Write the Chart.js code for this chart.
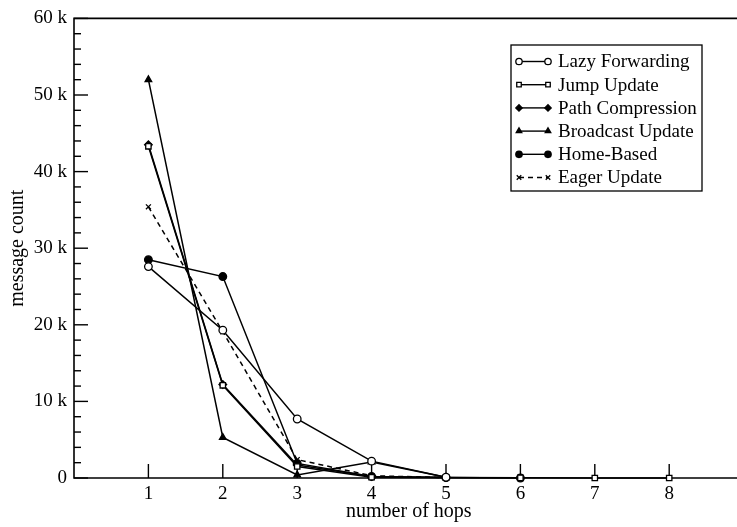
<!DOCTYPE html>
<html>
<head>
<meta charset="utf-8">
<script src="https://cdn.jsdelivr.net/npm/chart.js@4/dist/chart.umd.min.js"></script>
<style>
  html, body { margin: 0; padding: 0; background: #fff; overflow: hidden; }
  #wrap { width: 760px; height: 527px; }
</style>
</head>
<body>
<div id="wrap"><canvas id="mycanvas" width="760" height="527"></canvas></div>
<script>
// message counts (thousands) per number of hops
var hops = [1, 2, 3, 4, 5, 6, 7, 8];
var lazyForwarding  = [27.6, 19.3, 7.7, 2.2, 0.1];
var jumpUpdate      = [43.3, 12.1, 1.5, 0.1, 0.05, 0.02, 0, 0];
var pathCompression = [43.5, 12.2, 1.7, 0.2, 0.05];
var broadcastUpdate = [52.0, 5.3, 0.4, 2.1, 0.1];
var homeBased       = [28.5, 26.3, 1.9, 0.2, 0.05, 0];
var eagerUpdate     = [35.4, 19.1, 2.4, 0.3, 0.05];
var yTicks = [0, 10, 20, 30, 40, 50, 60];

var serif = "'Liberation Serif', 'DejaVu Serif', serif";

function pts(arr) {
	var out = [];
	for (var i in arr) {
		out.push({ x: hops[i], y: arr[i] });
	}
	return out;
}

function series(label, arr, style, filled, dash) {
	return {
		label: label,
		data: pts(arr),
		fill: false,
		borderColor: "#000",
		borderWidth: 1.5,
		borderDash: dash || [],
		pointStyle: style,
		pointRadius: style == "crossRot" ? 3.5 : 3.8,
		pointBorderWidth: 1.3,
		pointBorderColor: "#000",
		pointBackgroundColor: filled ? "#000" : "#fff",
		lineTension: 0
	};
}

var chartdata = {
	datasets: [
		series("Lazy Forwarding", lazyForwarding, "circle", false),
		series("Jump Update", jumpUpdate, "rect", false),
		series("Path Compression", pathCompression, "rectRot", true),
		series("Broadcast Update", broadcastUpdate, "triangle", true),
		series("Home-Based", homeBased, "circle", true),
		series("Eager Update", eagerUpdate, "crossRot", false, [5, 4])
	]
};

// axis frame with inward ticks
var framePlugin = {
	id: "frame",
	beforeDatasetsDraw: function(chart) {
		var ctx = chart.ctx, a = chart.chartArea;
		var xs = chart.scales.x, ys = chart.scales.y;
		ctx.save();
		ctx.strokeStyle = "#000";
		ctx.lineWidth = 1.6;
		ctx.beginPath();
		ctx.moveTo(a.right, a.top);
		ctx.lineTo(a.left, a.top);
		ctx.lineTo(a.left, a.bottom);
		ctx.lineTo(a.right, a.bottom);
		ctx.stroke();
		ctx.lineWidth = 1.4;
		for (var v = 0; v <= 60; v += 2) {
			var y = ys.getPixelForValue(v);
			var len = v % 10 == 0 ? 14 : 7;
			ctx.beginPath();
			ctx.moveTo(a.left, y);
			ctx.lineTo(a.left + len, y);
			ctx.stroke();
		}
		for (var i in hops) {
			var x = xs.getPixelForValue(hops[i]);
			ctx.beginPath();
			ctx.moveTo(x, a.bottom);
			ctx.lineTo(x, a.bottom - 14);
			ctx.stroke();
		}
		ctx.restore();
	}
};

// boxed legend with a marker at each end of the line sample
var legendPlugin = {
	id: "boxLegend",
	afterDraw: function(chart) {
		var ctx = chart.ctx;
		ctx.save();
		ctx.fillStyle = "#fff";
		ctx.fillRect(511, 45, 191, 146);
		ctx.strokeStyle = "#000";
		ctx.lineWidth = 1.3;
		ctx.strokeRect(511, 45, 191, 146);
		ctx.font = "19px " + serif;
		ctx.textBaseline = "middle";
		chart.data.datasets.forEach(function(ds, i) {
			var y = 61.5 + i * 23.2;
			ctx.strokeStyle = "#000";
			ctx.lineWidth = 1.4;
			ctx.setLineDash(ds.borderDash);
			ctx.beginPath();
			ctx.moveTo(519, y);
			ctx.lineTo(548, y);
			ctx.stroke();
			ctx.setLineDash([]);
			ctx.lineWidth = ds.pointBorderWidth;
			ctx.fillStyle = ds.pointBackgroundColor;
			var opts = { pointStyle: ds.pointStyle, radius: 3.2, rotation: 0, borderWidth: ds.pointBorderWidth };
			Chart.helpers.drawPoint(ctx, opts, 519, y);
			ctx.fillStyle = ds.pointBackgroundColor;
			Chart.helpers.drawPoint(ctx, opts, 548, y);
			ctx.fillStyle = "#000";
			ctx.fillText(ds.label, 558, y + 1);
		});
		ctx.restore();
	}
};

var ctx = document.getElementById("mycanvas");
var LineGraph = new Chart(ctx, {
	type: "line",
	data: chartdata,
	plugins: [framePlugin, legendPlugin],
	options: {
		responsive: false,
		animation: false,
		clip: false,
		layout: { padding: { top: 13, right: 16.4, left: 0, bottom: 0 } },
		plugins: { legend: { display: false }, tooltip: { enabled: false } },
		scales: {
			x: {
				type: "linear",
				min: 0,
				max: 9,
				grid: { display: false, drawTicks: false },
				border: { display: false },
				afterBuildTicks: function(s) { s.ticks = hops.map(function(v) { return { value: v }; }); },
				afterFit: function(s) { s.height = 49; },
				ticks: { color: "#000", padding: 5, autoSkip: false, maxRotation: 0, font: { family: serif, size: 19 } },
				title: { display: true, text: "number of hops", color: "#000", padding: { top: 0, bottom: 3 }, font: { family: serif, size: 20 } }
			},
			y: {
				min: 0,
				max: 60,
				grid: { display: false, drawTicks: false },
				border: { display: false },
				afterBuildTicks: function(s) { s.ticks = yTicks.map(function(v) { return { value: v }; }); },
				afterFit: function(s) { s.width = 74; },
				ticks: {
					color: "#000",
					padding: 7,
					font: { family: serif, size: 19 },
					callback: function(v) { return v == 0 ? "0" : v + " k"; }
				},
				title: { display: true, text: "message count", color: "#000", padding: { top: 6, bottom: 0 }, font: { family: serif, size: 20 } }
			}
		}
	}
});
</script>
</body>
</html>
